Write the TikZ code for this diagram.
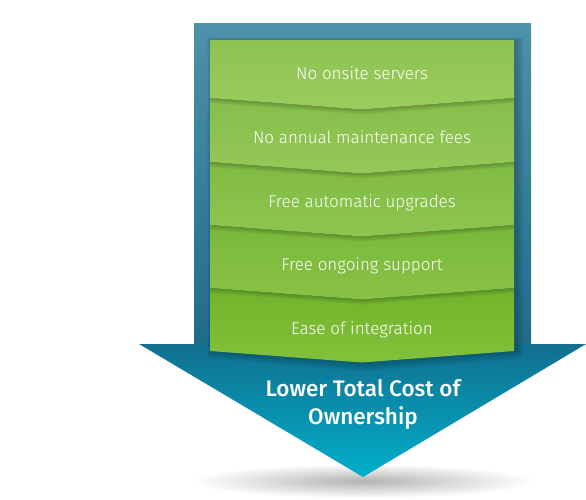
\documentclass[tikz,border=0pt]{standalone}
\usepackage{fontspec}
\setmainfont{Fira Sans}
\newfontfamily\itemfont{Fira Sans Light}
\newfontfamily\titlefont{Fira Sans Medium}
\definecolor{shaftTop}{HTML}{4D91AA}
\definecolor{shaftBot}{HTML}{1F6C8A}
\definecolor{headTop}{HTML}{126F8F}
\definecolor{headBot}{HTML}{00AFCA}
\definecolor{gA1}{HTML}{8CC351}\definecolor{gA2}{HTML}{9DCB5E}
\definecolor{gB1}{HTML}{85BE4A}\definecolor{gB2}{HTML}{96C857}
\definecolor{gC1}{HTML}{7FBB43}\definecolor{gC2}{HTML}{8FC550}
\definecolor{gD1}{HTML}{79B83A}\definecolor{gD2}{HTML}{89C246}
\definecolor{gE1}{HTML}{70B42C}\definecolor{gE2}{HTML}{84C13A}
\tikzset{
  itemtext/.style={text=white, anchor=base, font=\itemfont\fontsize{17}{20}\selectfont},
  titletext/.style={text=white, align=center, font=\titlefont\fontsize{22.5}{28}\selectfont},
}
\begin{document}
\begin{tikzpicture}[x=1pt,y=-1pt]
\useasboundingbox (0,0) rectangle (586,500);
% ground shadow
\shade[inner color=black!30, outer color=white] (363,481) ellipse [x radius=172, y radius=17];
% arrow
\shade[top color=shaftTop, bottom color=shaftBot] (194,24) rectangle (531,345);
\shade[top color=headTop, bottom color=headBot] (139,344) -- (586,344) -- (363,477) -- cycle;
% panel shadow
\foreach \k in {1,...,6}{
  \fill[black, opacity=0.035] (210-\k*0.8+2,40-\k*0.4) -- (514+\k*1.2+2,40-\k*0.4) -- (514+\k*1.2+2,351+\k*1.2) -- (362+2,363+\k*1.4) -- (210-\k*0.8+2,351+\k*1.2) -- cycle;
}
% segments, drawn bottom to top
\def\d{11.5}
\foreach \t/\b/\ca/\cb/\tip in {288/351/gE1/gE2/1, 225/288/gD1/gD2/1, 162/225/gC1/gC2/1, 98/162/gB1/gB2/1, 40/98/gA1/gA2/0}{
  \ifnum\b<351
    \foreach \s in {1,...,5}{
      \fill[black, opacity=0.045] (210,\t+\s) -- (362,\t+\tip*\d+\s) -- (514,\t+\s) -- (514,\b+\s) -- (362,\b+\d+\s) -- (210,\b+\s) -- cycle;
    }
  \fi
  \shade[top color=\ca, bottom color=\cb] (210,\t) -- (362,\t+\tip*\d) -- (514,\t) -- (514,\b) -- (362,\b+\d) -- (210,\b) -- cycle;
}
% texts
\node[itemtext] (i1) at (362,80) {No onsite servers};
\node[itemtext] (i2) at (362,143.5) {No annual maintenance fees};
\node[itemtext] (i3) at (362,207) {Free automatic upgrades};
\node[itemtext] (i4) at (362,270.5) {Free ongoing support};
\node[itemtext] (i5) at (362,334) {Ease of integration};
\node[titletext] (title) at (363,404) {Lower Total Cost of\\Ownership};
\end{tikzpicture}
\end{document}
